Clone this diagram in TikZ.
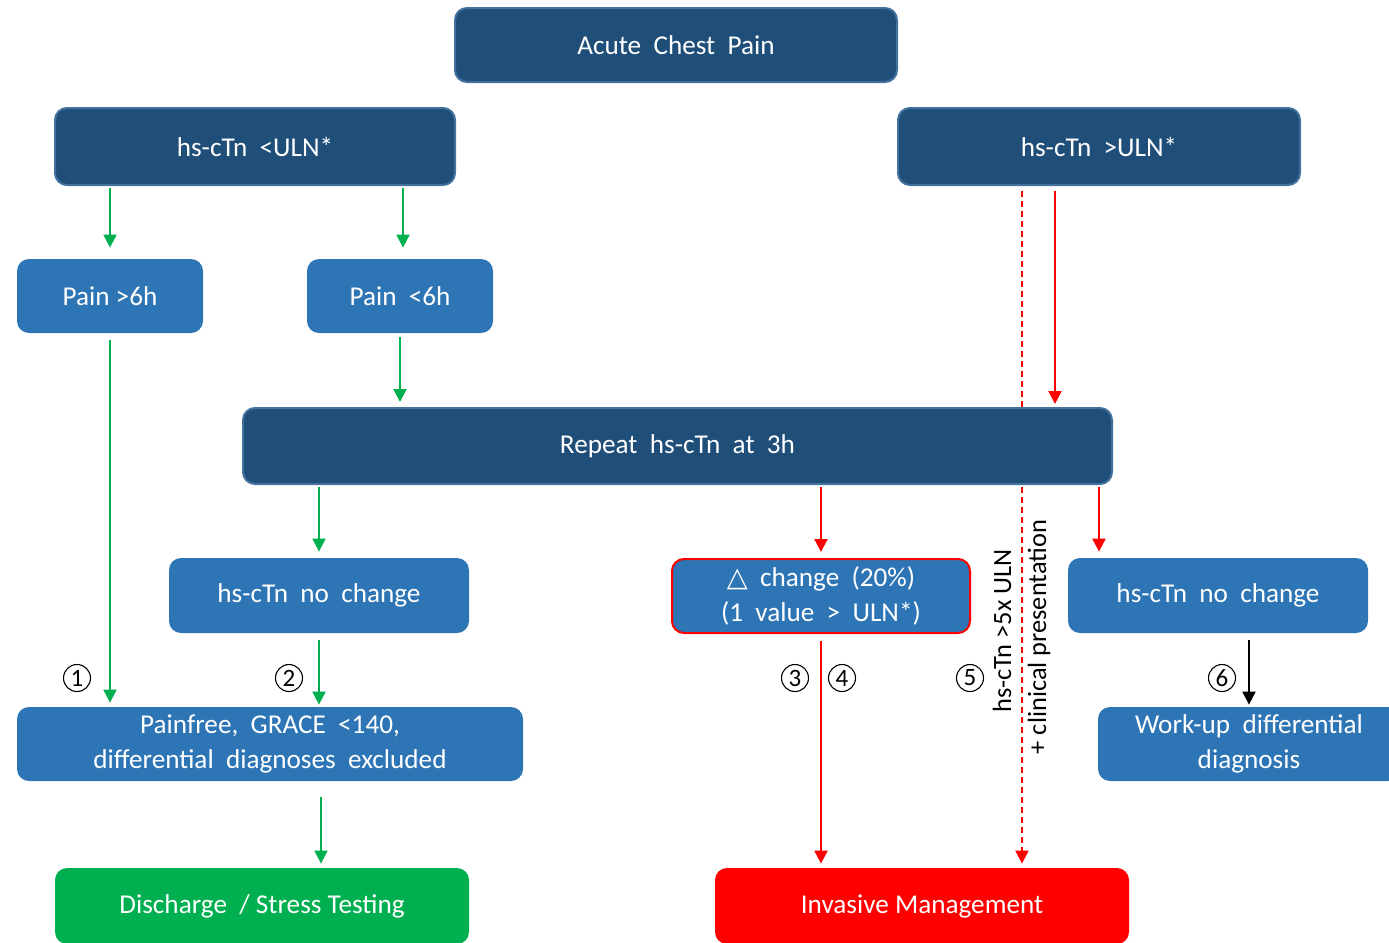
\documentclass[tikz,border=0pt]{standalone}
\usepackage{fontspec}
\setmainfont{Carlito}
\newfontfamily\symfont{DejaVu Sans}
\usetikzlibrary{calc, arrows.meta}

\definecolor{navy}{HTML}{1F4E79}
\definecolor{navyline}{HTML}{41719C}
\definecolor{midblue}{HTML}{2E75B6}
\definecolor{okgreen}{HTML}{00B050}
\definecolor{alarmred}{HTML}{FF0000}

\begin{document}
\begin{tikzpicture}[x=0.5pt,y=-0.5pt,
	box/.style={rounded corners=6pt, text=white, align=center, inner sep=0pt,
		font=\fontsize{13.6}{17.5}\selectfont},
	darkbox/.style={box, fill=navy, draw=navyline, line width=1pt},
	bluebox/.style={box, fill=midblue},
	flow/.style={line width=1pt, -{Triangle[length=6.5pt,width=6.5pt]}},
	garrow/.style={flow, draw=okgreen, -{Triangle[length=6.5pt,width=6.5pt,fill=okgreen]}},
	rarrow/.style={flow, draw=alarmred, -{Triangle[length=6.5pt,width=6.5pt,fill=alarmred]}},
	karrow/.style={flow, draw=black},
	numlbl/.style={circle, draw, line width=0.55pt, minimum size=13.5pt, inner sep=0pt,
		font=\fontsize{12.5}{14}\selectfont},
	sidelbl/.style={rotate=90, inner sep=0pt, font=\fontsize{13.2}{16}\selectfont}]

	\useasboundingbox (0,0) rectangle (1389,943);
	\clip (0,0) rectangle (1389,943);

	% top row
	\node[darkbox, minimum width=221pt, minimum height=37pt] (acp) at (676,45) {Acute\ \ Chest\ \ Pain};
	\node[darkbox, minimum width=200pt, minimum height=38.5pt] (low) at (255,146.5) {hs-cTn\ \ <ULN*};
	\node[darkbox, minimum width=201pt, minimum height=38.5pt] (high) at (1099,146.5) {hs-cTn\ \ >ULN*};

	% pain onset
	\node[bluebox, minimum width=93pt, minimum height=37pt] (pgt) at (110,296) {Pain >6h};
	\node[bluebox, minimum width=93pt, minimum height=37pt] (plt) at (400,296) {Pain\ \ <6h};

	% repeat measurement
	\node[darkbox, minimum width=434.5pt, minimum height=38pt] (rep) at (677.5,446) {Repeat\ \ hs-cTn\ \ at\ \ 3h};

	% results at 3h
	\node[bluebox, minimum width=150pt, minimum height=37.5pt] (ncl) at (319,595.5) {hs-cTn\ \ no\ \ change};
	\node[bluebox, draw=alarmred, line width=1pt, minimum width=149pt, minimum height=37pt] (chg) at (821,596)
		{{\symfont △}\ \ change\ \ (20\%)\\(1\ \ value\ \ >\ \ ULN*)};
	\node[bluebox, minimum width=150pt, minimum height=37.5pt] (ncr) at (1218,595.5) {hs-cTn\ \ no\ \ change};

	% work-up
	\node[bluebox, minimum width=253pt, minimum height=37pt] (pf) at (270,744)
		{Painfree,\ \ GRACE\ \ <140,\\differential\ \ diagnoses\ \ excluded};
	\node[bluebox, minimum width=151pt, minimum height=37pt] (wu) at (1249,744) {Work-up\ \ differential\\diagnosis};

	% outcome
	\node[box, fill=okgreen, minimum width=207pt, minimum height=38pt] (dis) at (262,906) {Discharge\ \ / Stress\ Testing};
	\node[box, fill=alarmred, minimum width=207pt, minimum height=38pt] (inv) at (922,906) {Invasive Management};

	% numbers
	\node[numlbl] (n1) at (77,678) {1};
	\node[numlbl] (n2) at (289,678) {2};
	\node[numlbl] (n3) at (795,678) {3};
	\node[numlbl] (n4) at (842,678) {4};
	\node[numlbl] (n5) at (970,678) {5};
	\node[numlbl] (n6) at (1222,678) {6};

	\node[sidelbl] (t5) at (1002,631) {hs-cTn >5x ULN};
	\node[sidelbl] (t6) at (1039,637) {+ clinical presentation};

	% green paths
	\draw[garrow, shorten <=1pt, shorten >=5.5pt] (pgt.north |- low.south) -- (pgt.north);
	\draw[garrow, shorten <=1pt, shorten >=5.5pt] ($(plt.north |- low.south)+(3,0)$) -- ($(plt.north)+(3,0)$);
	\draw[garrow, shorten <=3.5pt, shorten >=2pt] (pgt.south) -- (pgt.south |- pf.north);
	\draw[garrow, shorten <=2pt, shorten >=2.5pt] (plt.south) -- (plt.south |- rep.north);
	\draw[garrow, shorten <=1pt, shorten >=3pt] (ncl.north |- rep.south) -- (ncl.north);
	\draw[garrow, shorten <=3.5pt, shorten >=1pt] (ncl.south) -- (ncl.south |- pf.north);
	\draw[garrow, shorten <=8pt, shorten >=2pt] ($(ncl.south |- pf.south)+(2,0)$) -- ($(ncl.south |- dis.north)+(2,0)$);

	% red paths
	\draw[rarrow, shorten <=1pt, shorten >=3pt] (chg.north |- rep.south) -- (chg.north);
	\draw[rarrow, shorten <=2.5pt, shorten >=1.5pt] ($(high.south)+(-44,0)$) -- ($(high.south |- rep.north)+(-44,0)$);
	\draw[alarmred, line width=1pt, dash pattern=on 3pt off 2pt, shorten <=2.5pt] ($(high.south)+(-77,0)$) -- ($(high.south |- rep.north)+(-77,0)$);
	\draw[rarrow, dash pattern=on 3pt off 2pt, shorten <=1pt, shorten >=2pt] ($(high.south |- rep.south)+(-77,0)$) -- ($(high.south |- inv.north)+(-77,0)$);
	\draw[rarrow, shorten <=1pt, shorten >=3pt] (high.south |- rep.south) -- (high.south |- ncr.north);
	\draw[rarrow, shorten <=3.5pt, shorten >=2pt] (chg.south) -- (chg.south |- inv.north);

	% black path
	\draw[karrow, shorten <=3.5pt, shorten >=1pt] (wu.north |- ncr.south) -- (wu.north);
\end{tikzpicture}
\end{document}
